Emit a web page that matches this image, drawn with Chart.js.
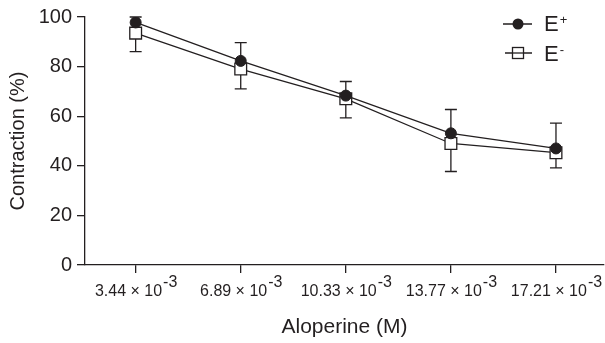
<!DOCTYPE html>
<html>
<head>
<meta charset="utf-8">
<script src="https://cdn.jsdelivr.net/npm/chart.js@4.4.0/dist/chart.umd.min.js"></script>
<style>
  html, body { margin: 0; padding: 0; background: #fff; }
</style>
</head>
<body>
<canvas id="c" width="605" height="343"></canvas>
<script>
// Aloperine concentrations (x 10^-3 M)
const concentrations = ['3.44', '6.89', '10.33', '13.77', '17.21'];
const xPos = [1, 2, 3, 4, 5];
const ePlus = [97.8, 82.3, 68.3, 53.1, 47.0];
const eMinus = [93.5, 79.0, 67.0, 49.0, 45.3];
// error bar ends
const errTop = [100, 89.7, 74.0, 62.7, 57.2];
const errBottom = [86.0, 71.0, 59.3, 37.7, 39.2];
const yTicks = [0, 20, 40, 60, 80, 100];

const INK = '#231f20';
const FONT = '"Liberation Sans", Arial, Helvetica, sans-serif';

function pts(vals) {
  return vals.map((v, i) => ({ x: xPos[i], y: v }));
}

// draw base text + superscript
function supText(ctx, base, sup, x, y, size, supSize, rise, align) {
  ctx.font = size + 'px ' + FONT;
  const wb = ctx.measureText(base).width;
  ctx.font = supSize + 'px ' + FONT;
  const ws = ctx.measureText(sup).width;
  let x0 = x;
  if (align === 'center') x0 = x - (wb + ws) / 2;
  ctx.textAlign = 'left';
  ctx.textBaseline = 'alphabetic';
  ctx.font = size + 'px ' + FONT;
  ctx.fillText(base, x0, y);
  ctx.font = supSize + 'px ' + FONT;
  ctx.fillText(sup, x0 + wb + 1, y - rise);
}

const errorBars = {
  id: 'errorBars',
  beforeDatasetsDraw(chart) {
    const ctx = chart.ctx;
    const xs = chart.scales.x, ys = chart.scales.y;
    ctx.save();
    ctx.strokeStyle = INK;
    ctx.lineWidth = 1.3;
    for (let i = 0; i < xPos.length; i++) {
      const x = xs.getPixelForValue(xPos[i]);
      const t = ys.getPixelForValue(errTop[i]);
      const b = ys.getPixelForValue(errBottom[i]);
      ctx.beginPath();
      ctx.moveTo(x, t); ctx.lineTo(x, b);
      ctx.moveTo(x - 6, t); ctx.lineTo(x + 6, t);
      ctx.moveTo(x - 6, b); ctx.lineTo(x + 6, b);
      ctx.stroke();
    }
    ctx.restore();
  }
};

const extras = {
  id: 'extras',
  afterDraw(chart) {
    const ctx = chart.ctx;
    const xs = chart.scales.x;
    ctx.save();
    ctx.fillStyle = INK;
    // x tick labels
    for (let i = 0; i < concentrations.length; i++) {
      const x = xs.getPixelForValue(xPos[i]);
      supText(ctx, concentrations[i] + ' \u00d7 10', '-3', x, 296, 16, 16, 9, 'center');
    }
    // legend
    ctx.strokeStyle = INK;
    ctx.lineWidth = 1.3;
    ctx.beginPath();
    ctx.moveTo(503, 24); ctx.lineTo(532, 24);
    ctx.moveTo(505, 53); ctx.lineTo(532, 53);
    ctx.stroke();
    ctx.beginPath();
    ctx.arc(518, 24, 5.5, 0, Math.PI * 2);
    ctx.fill();
    ctx.fillStyle = '#fff';
    ctx.fillRect(512.5, 47.5, 11, 11);
    ctx.strokeRect(512.5, 47.5, 11, 11);
    ctx.beginPath();
    ctx.moveTo(512.5, 53); ctx.lineTo(523.5, 53);
    ctx.stroke();
    ctx.fillStyle = INK;
    supText(ctx, 'E', '+', 544, 31, 22, 13, 7, 'left');
    supText(ctx, 'E', '-', 544, 61, 22, 13, 7, 'left');
    ctx.restore();
  }
};

new Chart(document.getElementById('c'), {
  type: 'line',
  data: {
    datasets: [
      {
        label: 'E+',
        data: pts(ePlus),
        borderColor: INK,
        borderWidth: 1.3,
        backgroundColor: INK,
        pointStyle: 'circle',
        pointRadius: 5.5,
        pointBorderWidth: 1,
        pointBackgroundColor: INK,
        pointBorderColor: INK,
        tension: 0
      },
      {
        label: 'E-',
        data: pts(eMinus),
        borderColor: INK,
        borderWidth: 1.3,
        backgroundColor: '#fff',
        pointStyle: 'rect',
        pointRadius: 8.3,
        pointBorderWidth: 1.3,
        pointBackgroundColor: '#fff',
        pointBorderColor: INK,
        tension: 0
      }
    ]
  },
  options: {
    responsive: false,
    animation: false,
    layout: { autoPadding: false, padding: { top: 14, right: 1, left: 0, bottom: 0 } },
    plugins: {
      legend: { display: false },
      tooltip: { enabled: false }
    },
    scales: {
      x: {
        type: 'linear',
        min: 0.518,
        max: 5.457,
        afterBuildTicks: (scale) => { scale.ticks = xPos.map(v => ({ value: v })); },
        afterFit: (scale) => { scale.height = 78; },
        ticks: { display: false },
        grid: { drawOnChartArea: false, drawTicks: true, tickLength: 8, color: INK, lineWidth: 1.3 },
        border: { display: true, color: INK, width: 1.3 },
        title: {
          display: true,
          text: 'Aloperine (M)',
          color: INK,
          font: { family: FONT, size: 21 },
          padding: { top: 0, bottom: 3 }
        }
      },
      y: {
        min: 0,
        max: 100,
        afterBuildTicks: (scale) => { scale.ticks = yTicks.map(v => ({ value: v })); },
        afterFit: (scale) => { scale.width = 85; },
        ticks: { color: INK, font: { family: FONT, size: 20 }, padding: 5 },
        grid: { drawOnChartArea: false, drawTicks: true, tickLength: 8, color: INK, lineWidth: 1.3 },
        border: { display: true, color: INK, width: 1.3 },
        title: {
          display: true,
          text: 'Contraction (%)',
          color: INK,
          font: { family: FONT, size: 20 },
          padding: { top: 6, bottom: 0 }
        }
      }
    }
  },
  plugins: [errorBars, extras]
});
</script>
</body>
</html>
